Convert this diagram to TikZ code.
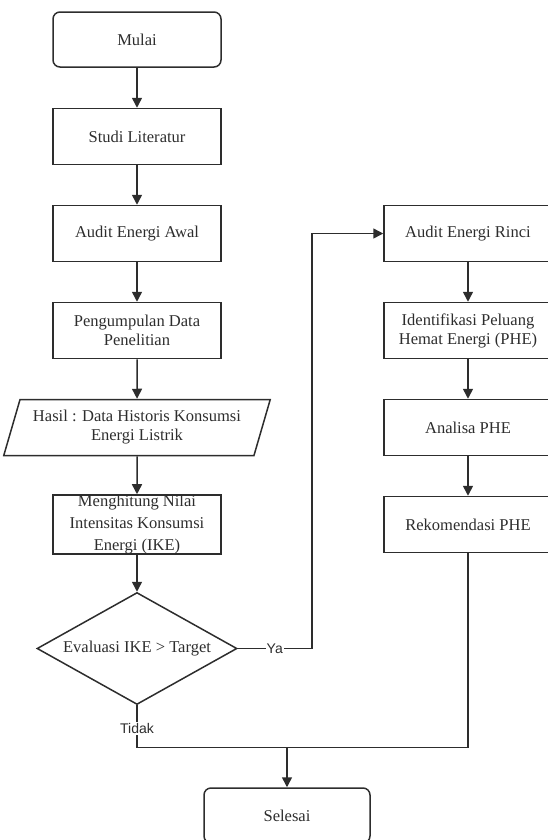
\documentclass[tikz,border=0pt]{standalone}
\usepackage{fontspec}
\setmainfont{Liberation Serif}
\newfontfamily\labelfont{Liberation Sans}
\usetikzlibrary{positioning, shapes.geometric, arrows.meta}
\definecolor{linegray}{RGB}{45,45,45}
\newlength\Px
\setlength\Px{0.75pt}

\begin{document}
\begin{tikzpicture}
    [node distance=97\Px, line width=1.5\Px, color=linegray,
    font=\fontsize{12.4}{14.3}\selectfont,
    start/.style={rectangle, draw, rounded corners=7\Px, minimum width=168\Px, minimum height=55\Px},
    activity/.style={rectangle, draw, align=center, inner sep=1\Px, minimum width=168\Px,
    minimum height=56\Px},
    input/.style={trapezium, draw, trapezium stretches=true, trapezium left angle=67,
    trapezium right angle=113, align=center, inner sep=0pt, minimum width=267\Px, minimum height=56\Px},
    decision/.style={diamond, draw, aspect=1.786, inner sep=0pt, minimum width=200\Px,
    minimum height=112\Px},
    branch/.style={font=\labelfont\fontsize{10.5}{12}\selectfont, fill=white, inner sep=1\Px},
    arrow/.style={->, >={Triangle[length=7.5pt, width=7.5pt]}}]
    \useasboundingbox (0,0) rectangle (547\Px,-840\Px);
    \node [start] (mulai) at (137\Px,-39.5\Px) {Mulai};
    \node [activity, below of=mulai] (studi) {Studi Literatur};
    \node [activity, below of=studi] (audit_awal) {Audit Energi Awal};
    \node [activity, below of=audit_awal] (pengumpulan) {Pengumpulan Data\\Penelitian};
    \node [input, below of=pengumpulan] (hasil) {Hasil : Data Historis Konsumsi\\Energi Listrik};
    \node [activity, below of=hasil, inner ysep=0pt, minimum height=57\Px,
    font=\fontsize{12.4}{16.5}\selectfont] (hitung_ike)
    {Menghitung Nilai\\Intensitas Konsumsi\\Energi (IKE)};
    \node [decision, below of=hitung_ike, node distance=124\Px] (evaluasi) {Evaluasi IKE > Target};
    \node [activity, right of=audit_awal, node distance=331\Px] (audit_rinci) {Audit Energi Rinci};
    \node [activity, below of=audit_rinci] (identifikasi) {Identifikasi Peluang\\Hemat Energi (PHE)};
    \node [activity, below of=identifikasi] (analisa) {Analisa PHE};
    \node [activity, below of=analisa] (rekomendasi) {Rekomendasi PHE};
    \node [start, minimum width=166\Px] (selesai) at (287\Px,-815.5\Px) {Selesai};
    \coordinate [right=74\Px of evaluasi.east] (ya);
    \coordinate [below=42\Px of evaluasi.south] (tidak);

    \draw [arrow] (mulai) -- (studi);
    \draw [arrow] (studi) -- (audit_awal);
    \draw [arrow] (audit_awal) -- (pengumpulan);
    \draw [arrow] (pengumpulan) -- (hasil);
    \draw [arrow] (hasil) -- (hitung_ike);
    \draw [arrow] (hitung_ike) -- (evaluasi);
    \draw [arrow] (evaluasi.east) -- node [branch] {Ya} (ya) |- (audit_rinci.west);
    \draw [arrow] (audit_rinci) -- (identifikasi);
    \draw [arrow] (identifikasi) -- (analisa);
    \draw [arrow] (analisa) -- (rekomendasi);
    \draw (evaluasi.south) -- node [branch, pos=0.55] {Tidak} (tidak) -| (rekomendasi.south);
    \draw [arrow] (selesai.north |- tidak) -- (selesai);
\end{tikzpicture}
\end{document}
